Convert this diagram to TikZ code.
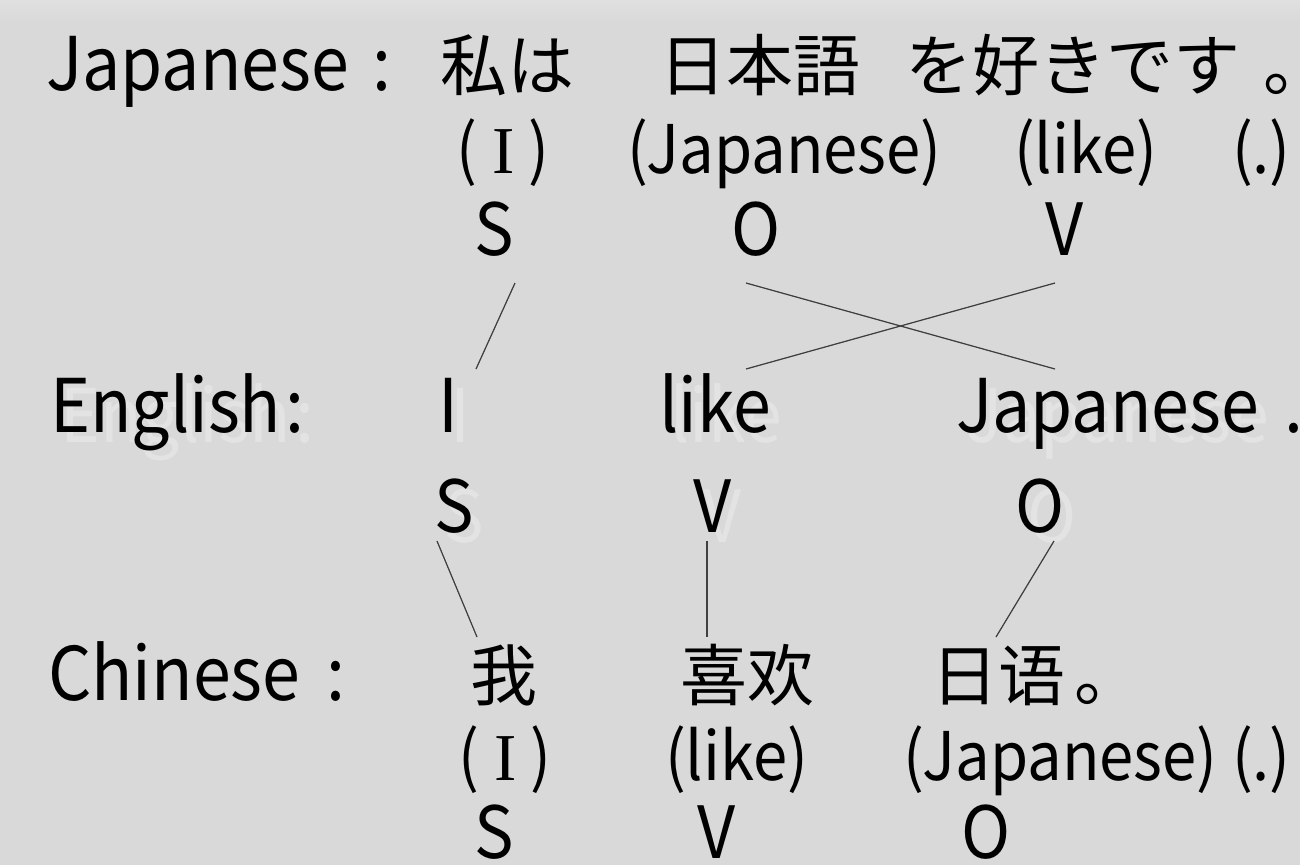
\documentclass[tikz,border=0pt]{standalone}
\usepackage{fontspec}
\setmainfont{Noto Sans CJK JP}[FakeStretch=0.92]
\newfontfamily\cjk{Noto Sans CJK JP}
\newfontfamily\serifI{Liberation Serif}
\definecolor{bg}{HTML}{D9D9D9}
\definecolor{bgtop}{HTML}{E0E0E0}
\definecolor{ink}{HTML}{000000}
\definecolor{linec}{HTML}{404040}
\definecolor{shade}{HTML}{E3E3E3}
\newcommand{\glossI}{(\hspace{16pt}{\serifI I}\hspace{13pt})}
\tikzset{
  big/.style={anchor=base west, inner sep=0pt, outer sep=0pt, text=ink, font=\fontsize{74}{80}\selectfont},
  han/.style={anchor=base west, inner sep=0pt, outer sep=0pt, text=ink, font=\cjk\fontsize{67}{72}\selectfont},
  mid/.style={anchor=base west, inner sep=0pt, outer sep=0pt, text=ink, font=\fontsize{67}{72}\selectfont},
  role/.style={anchor=base west, inner sep=0pt, outer sep=0pt, text=ink, font=\fontsize{72}{78}\selectfont},
  shtxt/.style={text=shade},
  link/.style={draw=linec, line width=1.3pt},
  linksh/.style={draw=shade, line width=2pt},
}
\begin{document}
\begin{tikzpicture}[x=1pt,y=-1pt]
\useasboundingbox (0,0) rectangle (1300,865);
\fill[bg] (0,0) rectangle (1300,865);
\shade[top color=bgtop, bottom color=bg] (0,0) rectangle (1300,22);

% ---------- Row 1: Japanese ----------
\node[big] (jlab) at (46,90) {Japanese\hspace{24pt}:};
\node[han] (j1) at (440,90) {私は};
\node[han] (j2) at (659,90) {日本語};
\node[han] (j3) at (905,90) {を好きです};
\node[han] (j4) at (1263,90) {\makebox[0.4em][l]{。}};
% gloss
\node[mid] (jg1) at (456,173) {\glossI};
\node[mid] (jg2) at (627,173) {(Japanese)};
\node[mid] (jg3) at (1014,173) {(like)};
\node[mid] (jg4) at (1232,173) {(.)};
% roles
\node[role] (jS) at (474,255) {S};
\node[role] (jO) at (731,255) {O};
\node[role] (jV) at (1045,255) {V};

% ---------- Row 2: English (with shadow) ----------
\node[big,shtxt] (elab-sh) at (60,442) {English\hspace{4pt}:};
\node[big,shtxt] (e1-sh) at (450,442) {I};
\node[big,shtxt] (e2-sh) at (670,442) {like};
\node[big,shtxt] (e3-sh) at (966,442) {Japanese};
\node[role,shtxt] (eS-sh) at (444,542) {S};
\node[role,shtxt] (eV-sh) at (703,542) {V};
\node[role,shtxt] (eO-sh) at (1027,542) {O};

\node[big] (elab) at (50,432) {English\hspace{4pt}:};
\node[big] (e1) at (438,432) {I};
\node[big] (e2) at (659,432) {like};
\node[big] (e3) at (956,432) {Japanese};
\node[big] (e4) at (1284,432) {.};
\node[role] (eS) at (434,532) {S};
\node[role] (eV) at (693,532) {V};
\node[role] (eO) at (1015,532) {O};

% ---------- Row 3: Chinese ----------
\node[big] (clab) at (48,700) {Chinese\hspace{26pt}:};
\node[han] (c1) at (470,700) {我};
\node[han] (c2) at (680,700) {喜欢};
\node[han] (c3) at (931,700) {日语};
\node[han] (c4) at (1074,700) {\makebox[0.4em][l]{。}};
\node[mid] (cg1) at (458,780) {\glossI};
\node[mid] (cg2) at (665,780) {(like)};
\node[mid] (cg3) at (903,780) {(Japanese)};
\node[mid] (cg4) at (1232,780) {(.)};
\node[role] (cS) at (474,858) {S};
\node[role] (cV) at (697,858) {V};
\node[role] (cO) at (961,858) {O};

% ---------- connector end points ----------
\coordinate (jS-e) at (515,283);
\coordinate (e1-e) at (476,369);
\coordinate (jO-e) at (746,283);
\coordinate (e3-e) at (1055,369);
\coordinate (jV-e) at (1055,283);
\coordinate (e2-e) at (746,369);
\coordinate (eS-e) at (437,541);
\coordinate (c1-e) at (477,637);
\coordinate (eV-e) at (707,541);
\coordinate (c2-e) at (707,637);
\coordinate (eO-e) at (1054,541);
\coordinate (c3-e) at (996,637);

% shadows of connectors
\begin{scope}[shift={(9,9)}]
\draw[linksh] (jS-e) -- (e1-e);
\draw[linksh] (jO-e) -- (e3-e);
\draw[linksh] (jV-e) -- (e2-e);
\draw[linksh] (eS-e) -- (c1-e);
\draw[linksh] (eV-e) -- (c2-e);
\draw[linksh] (eO-e) -- (c3-e);
\end{scope}
% connectors
\draw[link] (jS-e) -- (e1-e);
\draw[link] (jO-e) -- (e3-e);
\draw[link] (jV-e) -- (e2-e);
\draw[link] (eS-e) -- (c1-e);
\draw[link] (eV-e) -- (c2-e);
\draw[link] (eO-e) -- (c3-e);
\end{tikzpicture}
\end{document}
